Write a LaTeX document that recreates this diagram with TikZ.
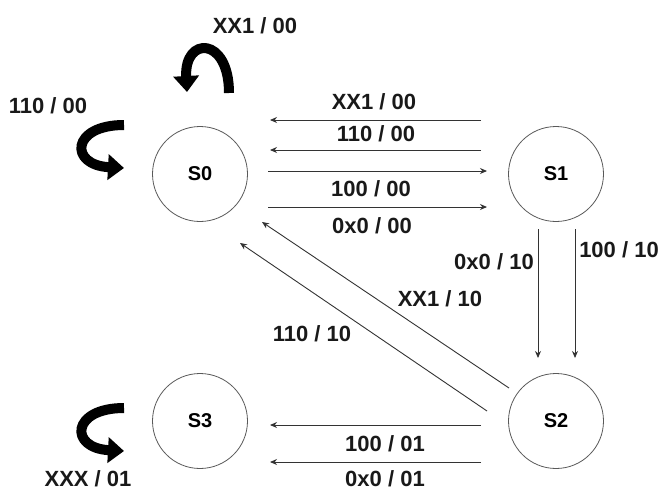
\documentclass[tikz,border=0pt]{standalone}
\usepackage{fontspec}
\setmainfont{Liberation Sans}
\usetikzlibrary{arrows.meta}
\begin{document}
\begin{tikzpicture}[x=1pt,y=-1pt,
  state/.style={circle,draw=black!65,line width=0.8pt,minimum size=95pt,inner sep=0pt,font=\fontsize{20}{22}\bfseries\selectfont},
  lbl/.style={font=\fontsize{22}{24}\bfseries\selectfont,inner sep=0pt,text=black!90},
  edge/.style={draw=black!80,line width=0.9pt,-{Stealth[length=7pt,width=6pt]}},
  loop/.style={line width=10pt,-{Triangle[length=16pt,width=25pt]}}]
\useasboundingbox (0,0) rectangle (661,491);
% states
\node[state] (S0) at (200,174) {S0};
\node[state] (S1) at (556,174) {S1};
\node[state] (S2) at (556,421) {S2};
\node[state] (S3) at (200,421) {S3};
% endpoints
\coordinate (a1) at (481,120); \coordinate (a2) at (270,120);
\coordinate (b1) at (481,150); \coordinate (b2) at (270,150);
\coordinate (c1) at (268,171); \coordinate (c2) at (487,171);
\coordinate (d1) at (268,207); \coordinate (d2) at (487,207);
\coordinate (e1) at (538,229); \coordinate (e2) at (538,358);
\coordinate (f1) at (575,229); \coordinate (f2) at (575,358);
\coordinate (g1) at (509,388); \coordinate (g2) at (262,222);
\coordinate (h1) at (487,411); \coordinate (h2) at (240,243);
\coordinate (i1) at (481,425); \coordinate (i2) at (270,425);
\coordinate (j1) at (481,462); \coordinate (j2) at (270,462);
% connectors
\draw[edge] (a1) -- (a2);
\draw[edge] (b1) -- (b2);
\draw[edge] (c1) -- (c2);
\draw[edge] (d1) -- (d2);
\draw[edge] (e1) -- (e2);
\draw[edge] (f1) -- (f2);
\draw[edge] (g1) -- (g2);
\draw[edge] (h1) -- (h2);
\draw[edge] (i1) -- (i2);
\draw[edge] (j1) -- (j2);
% self loops (thick curved arrows)
\coordinate (t0s) at (229,93); \coordinate (t0e) at (187,92);
\draw[loop] (t0s) .. controls (229,36) and (184,36) .. (t0e);
\coordinate (l0s) at (124,125); \coordinate (l0e) at (124,168);
\draw[loop] (l0s) .. controls (71,125) and (69,165) .. (l0e);
\coordinate (l3s) at (124,408); \coordinate (l3e) at (124,451);
\draw[loop] (l3s) .. controls (71,408) and (69,448) .. (l3e);
% labels
\node[lbl] (L1) at (255,26) {XX1 / 00};
\node[lbl] (L2) at (48,106) {110 / 00};
\node[lbl] (L3) at (374,102) {XX1 / 00};
\node[lbl] (L4) at (376,134) {110 / 00};
\node[lbl] (L5) at (371,189) {100 / 00};
\node[lbl] (L6) at (372,226) {0x0 / 00};
\node[lbl] (L7) at (494,262) {0x0 / 10};
\node[lbl] (L8) at (619,250) {100 / 10};
\node[lbl] (L9) at (440,299) {XX1 / 10};
\node[lbl] (L10) at (312,334) {110 / 10};
\node[lbl] (L11) at (385,444) {100 / 01};
\node[lbl] (L12) at (385,479) {0x0 / 01};
\node[lbl] (L13) at (88,479) {XXX / 01};
\end{tikzpicture}
\end{document}
